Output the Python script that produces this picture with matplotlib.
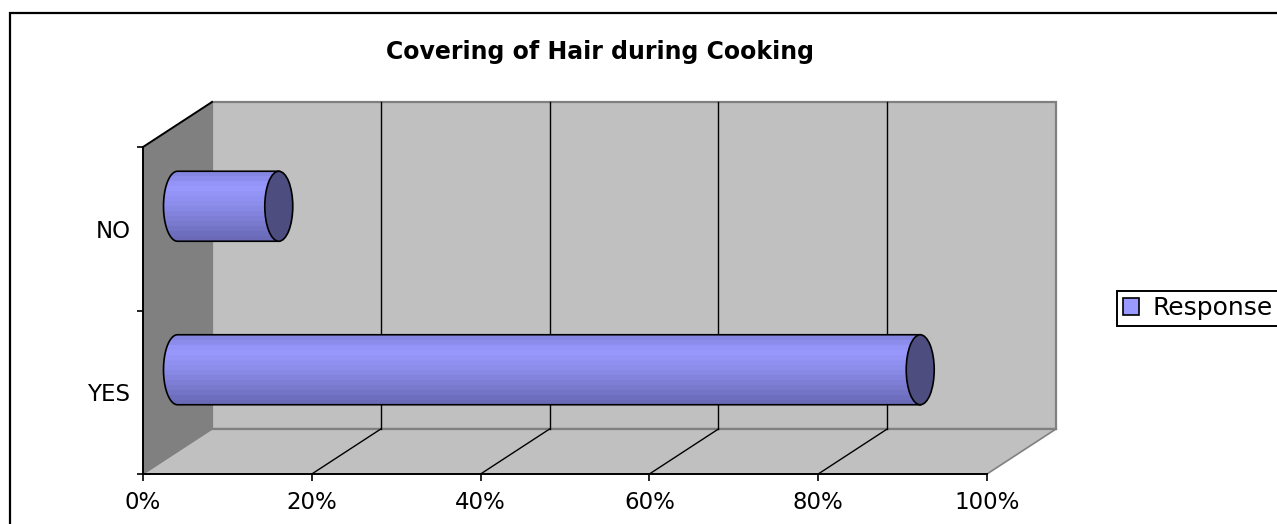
import numpy as np
import matplotlib
matplotlib.use("Agg")
import matplotlib.pyplot as plt
from matplotlib.patches import Polygon, Ellipse, PathPatch, Rectangle, Patch
from matplotlib.path import Path
from matplotlib.colors import LinearSegmentedColormap

# ---- data ----
categories = ["YES", "NO"]
responses = [88, 12]          # percent of respondents
value_ticks = [0, 20, 40, 60, 80, 100]
value_tick_labels = ["0%", "20%", "40%", "60%", "80%", "100%"]
series_name = "Response"
title = "Covering of Hair during Cooking"

# ---- figure / plot-area geometry (pixels) ----
W, H, DPI = 1277, 524, 100
FRONT_LEFT, FRONT_RIGHT = 143, 987
FRONT_TOP, FRONT_BOTTOM = 147, 474
DEPTH_DX, DEPTH_DY = 69, 45       # oblique offset of the back plane
CYL_R, CYL_CAP = 35, 14           # cylinder radius / cap half-width
LABEL_SIZE = 16.5

plt.rcParams["font.family"] = ["DejaVu Sans"]
fig = plt.figure(figsize=(W / DPI, H / DPI), dpi=DPI)
fig.patch.set_facecolor("white")

ax = fig.add_axes([FRONT_LEFT / W, (H - FRONT_BOTTOM) / H,
                   (FRONT_RIGHT - FRONT_LEFT) / W, (FRONT_BOTTOM - FRONT_TOP) / H])
XMAX = value_ticks[-1]
NCAT = len(categories)
ax.set_xlim(0, XMAX)
ax.set_ylim(0, NCAT)
ax.patch.set_visible(False)

px_x = (FRONT_RIGHT - FRONT_LEFT) / XMAX      # pixels per value unit
px_y = (FRONT_BOTTOM - FRONT_TOP) / NCAT      # pixels per category unit
dx = DEPTH_DX / px_x
dy = DEPTH_DY / px_y


def P(v, c, d):
    """Project (value, category, depth 0..1) onto the front plane."""
    return (v + d * dx, c + d * dy)


WALL = "#C0C0C0"
SIDE = "#808080"
EDGE_GRAY = "#808080"

# side wall
ax.add_patch(Polygon([P(0, 0, 0), P(0, NCAT, 0), P(0, NCAT, 1), P(0, 0, 1)],
                     closed=True, facecolor=SIDE, edgecolor="none", zorder=1, clip_on=False))
# back wall
ax.add_patch(Polygon([P(0, 0, 1), P(XMAX, 0, 1), P(XMAX, NCAT, 1), P(0, NCAT, 1)],
                     closed=True, facecolor=WALL, edgecolor=EDGE_GRAY, lw=1.6,
                     zorder=1, clip_on=False))
# floor
ax.add_patch(Polygon([P(0, 0, 0), P(XMAX, 0, 0), P(XMAX, 0, 1), P(0, 0, 1)],
                     closed=True, facecolor=WALL, edgecolor="none", zorder=1.1, clip_on=False))
for v in (0, XMAX):
    (x0, y0), (x1, y1) = P(v, 0, 0), P(v, 0, 1)
    ax.plot([x0, x1], [y0, y1], color=EDGE_GRAY, lw=1.2, zorder=1.2, clip_on=False)
(x0, y0), (x1, y1) = P(0, 0, 1), P(XMAX, 0, 1)
ax.plot([x0, x1], [y0, y1], color=EDGE_GRAY, lw=1.6, zorder=1.2, clip_on=False)

# gridlines on back wall and floor
for v in value_ticks[1:-1]:
    (x0, y0), (x1, y1) = P(v, 0, 1), P(v, NCAT, 1)
    ax.plot([x0, x1], [y0, y1], color="black", lw=1.0, zorder=1.3, clip_on=False)
    (x0, y0), (x1, y1) = P(v, 0, 0), P(v, 0, 1)
    ax.plot([x0, x1], [y0, y1], color="black", lw=1.0, zorder=1.3, clip_on=False)

# top edge of side wall
(x0, y0), (x1, y1) = P(0, NCAT, 0), P(0, NCAT, 1)
ax.plot([x0, x1], [y0, y1], color="black", lw=1.4, zorder=1.4, clip_on=False)

# ---- cylinders ----
shade = LinearSegmentedColormap.from_list(
    "cyl", [(0.0, "#6A6AB8"), (0.55, "#8E8EEE"), (0.8, "#9999FF"), (1.0, "#8585E2")])
grad = np.linspace(0, 1, 14).reshape(-1, 1)

r = CYL_R / px_y
a = CYL_CAP / px_x
for i, (cat, val) in enumerate(zip(categories, responses)):
    cx0, cy = P(0, i + 0.5, 0.5)
    cx1 = cx0 + val
    t = np.linspace(-np.pi / 2, -3 * np.pi / 2, 40)
    arc = np.column_stack([cx0 + a * np.cos(t), cy + r * np.sin(t)])
    verts = np.vstack([[cx0, cy + r], [cx1, cy + r], [cx1, cy - r], [cx0, cy - r],
                       arc[1:], [cx0, cy + r]])
    codes = [Path.MOVETO] + [Path.LINETO] * (len(verts) - 2) + [Path.CLOSEPOLY]
    body = PathPatch(Path(verts, codes), facecolor="none", edgecolor="black",
                     lw=1.2, zorder=3.2, clip_on=False)
    ax.add_patch(body)
    im = ax.imshow(grad, cmap=shade, aspect="auto", interpolation="nearest",
                   extent=(cx0 - a, cx1, cy - r, cy + r), origin="lower",
                   zorder=3.1)
    im.set_clip_path(body)
    ax.add_patch(Ellipse((cx1, cy), 2 * a, 2 * r, facecolor="#4D4D80",
                         edgecolor="black", lw=1.2, zorder=3.3, clip_on=False))

ax.set_xlim(0, XMAX)
ax.set_ylim(0, NCAT)

# ---- axes: front floor edge and front wall edge ----
for s in ("top", "right"):
    ax.spines[s].set_visible(False)
for s in ("left", "bottom"):
    ax.spines[s].set_color("black")
    ax.spines[s].set_linewidth(1.4)
    ax.spines[s].set_zorder(1.5)
ax.set_xticks(value_ticks)
ax.set_xticklabels(value_tick_labels, fontsize=LABEL_SIZE)
ax.tick_params(axis="x", direction="out", length=5, width=1.2, pad=7)
ax.set_yticks(range(NCAT + 1))
ax.set_yticklabels([])
ax.set_yticks([i + 0.5 for i in range(NCAT)], minor=True)
ax.set_yticklabels(categories, minor=True, fontsize=LABEL_SIZE)
ax.tick_params(axis="y", which="major", direction="out", length=4, width=1.2)
ax.tick_params(axis="y", which="minor", length=0, pad=9)

# ---- title, legend, chart border ----
fig.text(600 / W, 1 - 52 / H, title, ha="center", va="center",
         fontsize=17, fontweight="bold")

leg = fig.legend(handles=[Patch(facecolor="#9999FF", edgecolor="black", lw=1.2)],
                 labels=[series_name], loc="center left",
                 bbox_to_anchor=(1117 / W, 1 - 308 / H), fontsize=18,
                 frameon=True, fancybox=False, edgecolor="black", framealpha=1,
                 handlelength=0.65, handleheight=0.65, handletextpad=0.55,
                 borderpad=0.22, borderaxespad=0)
leg.get_frame().set_linewidth(1.4)

fig.patches.append(Rectangle((9.5 / W, -0.1), 1.2, (H - 13.5) / H + 0.1,
                             transform=fig.transFigure, fill=False,
                             edgecolor="black", lw=1.6))

fig.savefig("out.png", dpi=DPI)
